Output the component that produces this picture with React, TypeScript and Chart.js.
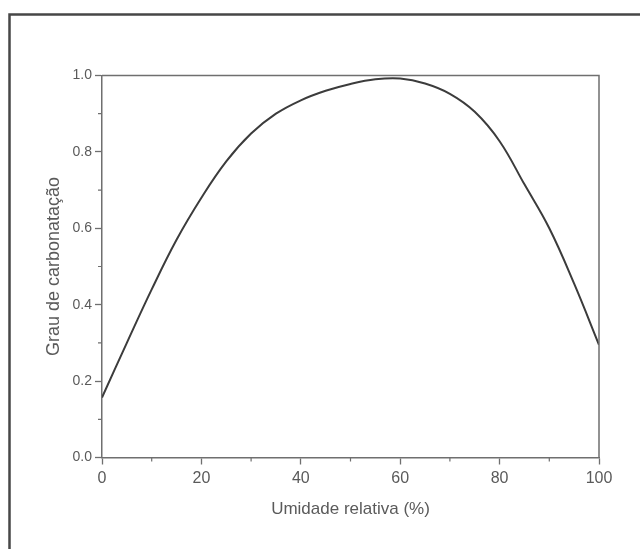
import React, { useEffect, useRef } from "react";
import { Chart, registerables } from "chart.js";

Chart.register(...registerables);

const humidity = [0, 5, 10, 15, 20, 25, 30, 35, 40, 45, 50, 55, 60, 65, 70, 75, 80, 85, 90, 95, 100];
const carbonation = [0.157, 0.3, 0.44, 0.57, 0.68, 0.775, 0.848, 0.9, 0.935, 0.96, 0.978, 0.99, 0.992, 0.979, 0.952, 0.905, 0.828, 0.715, 0.6, 0.455, 0.295];
const xMinorTicks = [10, 30, 50, 70, 90];
const yMinorTicks = [0.1, 0.3, 0.5, 0.7, 0.9];
const xTitle = "Umidade relativa (%)";
const yTitle = "Grau de carbonatação";

const AXIS = "#6f6f6f";
const TEXT = "#5a5a5a";

const framePlugin = {
  id: "frameAndMinor",
  beforeDraw(chart: any) {
    const { ctx, width, height } = chart;
    ctx.save();
    ctx.fillStyle = "#ffffff";
    ctx.fillRect(0, 0, width, height);
    ctx.strokeStyle = "#474747";
    ctx.lineWidth = 2.5;
    ctx.beginPath();
    ctx.moveTo(9.5, height);
    ctx.lineTo(9.5, 14.5);
    ctx.lineTo(width, 14.5);
    ctx.stroke();
    ctx.restore();
  },
  afterDraw(chart: any) {
    const { ctx, chartArea } = chart;
    const xs = chart.scales.x;
    const ys = chart.scales.y;
    ctx.save();
    ctx.strokeStyle = AXIS;
    ctx.lineWidth = 1.5;
    ctx.beginPath();
    ctx.moveTo(chartArea.left, chartArea.top);
    ctx.lineTo(chartArea.right, chartArea.top);
    ctx.lineTo(chartArea.right, chartArea.bottom);
    ctx.stroke();
    ctx.lineWidth = 1.2;
    ctx.beginPath();
    for (const v of xMinorTicks) {
      const px = xs.getPixelForValue(v);
      ctx.moveTo(px, chartArea.bottom);
      ctx.lineTo(px, chartArea.bottom + 4);
    }
    for (const v of yMinorTicks) {
      const py = ys.getPixelForValue(v);
      ctx.moveTo(chartArea.left - 4, py);
      ctx.lineTo(chartArea.left, py);
    }
    ctx.stroke();
    ctx.restore();
  },
};

export default function App() {
  const ref = useRef<HTMLCanvasElement | null>(null);
  useEffect(() => {
    if (!ref.current) return;
    const chart = new Chart(ref.current, {
      type: "line",
      data: {
        datasets: [
          {
            data: humidity.map((h, i) => ({ x: h, y: carbonation[i] })),
            borderColor: "#3c3c3c",
            borderWidth: 2,
            pointRadius: 0,
            tension: 0.4,
            fill: false,
          },
        ],
      },
      options: {
        animation: false,
        responsive: false,
        events: [],
        layout: { padding: { left: 0, top: 75.5, right: 41, bottom: 0 } },
        plugins: { legend: { display: false }, tooltip: { enabled: false } },
        scales: {
          x: {
            type: "linear",
            min: 0,
            max: 100,
            afterFit: (s: any) => {
              s.height = 91.5;
            },
            ticks: {
              stepSize: 20,
              padding: 4,
              color: TEXT,
              font: { family: "Liberation Sans, Arial, sans-serif", size: 16 },
            },
            grid: { drawOnChartArea: false, drawTicks: true, tickLength: 7, color: AXIS, tickWidth: 1.3 },
            border: { display: true, color: AXIS, width: 1.5 },
            title: {
              display: true,
              text: xTitle,
              color: TEXT,
              font: { family: "Liberation Sans, Arial, sans-serif", size: 17 },
              padding: { top: 0, bottom: 29 },
            },
          },
          y: {
            type: "linear",
            min: 0,
            max: 1,
            afterFit: (s: any) => {
              s.width = 102;
            },
            ticks: {
              stepSize: 0.2,
              padding: 3,
              color: TEXT,
              font: { family: "Liberation Sans, Arial, sans-serif", size: 14 },
              callback: (v: any) => Number(v).toFixed(1),
            },
            grid: { drawOnChartArea: false, drawTicks: true, tickLength: 7, color: AXIS, tickWidth: 1.3 },
            border: { display: true, color: AXIS, width: 1.5 },
            title: {
              display: true,
              text: yTitle,
              color: TEXT,
              font: { family: "Liberation Sans, Arial, sans-serif", size: 18 },
              padding: { top: 43, bottom: 0 },
            },
          },
        },
      },
      plugins: [framePlugin],
    });
    return () => chart.destroy();
  }, []);
  return (
    <div style={{ position: "fixed", left: 0, top: 0, width: 640, height: 549, background: "#fff" }}>
      <canvas ref={ref} width={640} height={549} style={{ display: "block" }} />
    </div>
  );
}
